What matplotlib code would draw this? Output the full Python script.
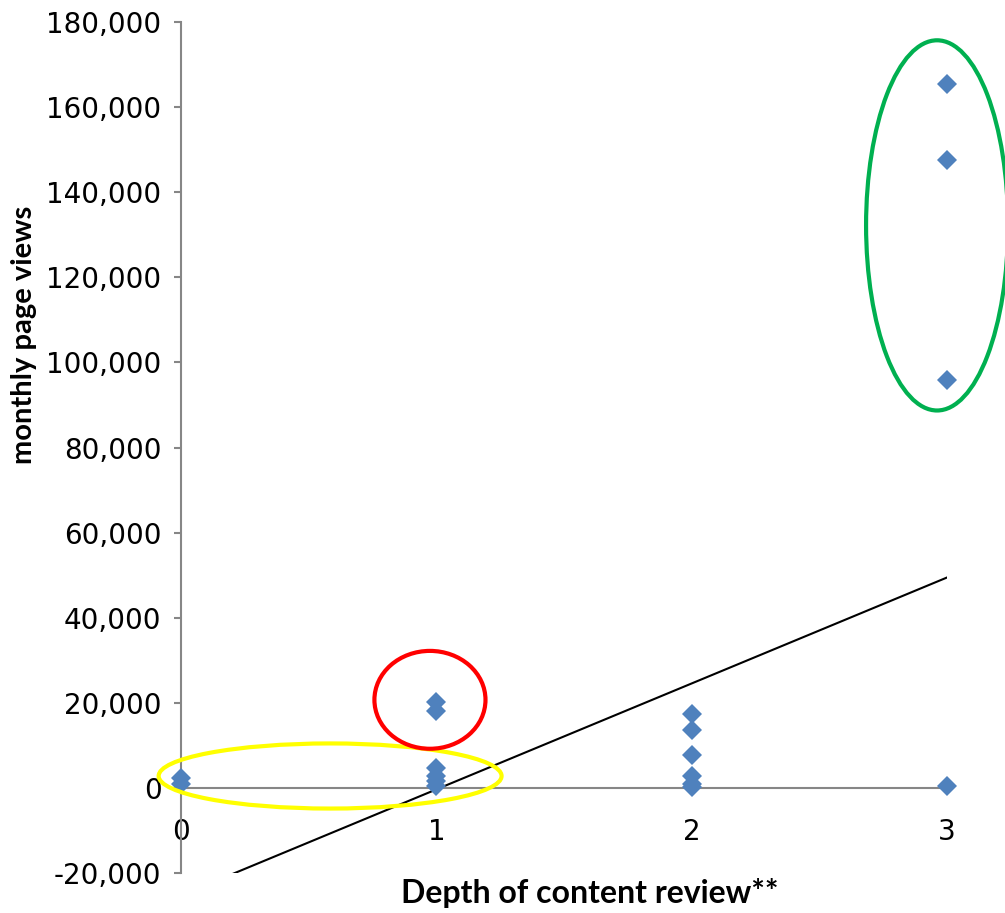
import matplotlib.pyplot as plt
from matplotlib.patches import Ellipse
from matplotlib.ticker import FuncFormatter
import numpy as np

# Data
depth = [0, 0,
         1, 1, 1, 1, 1, 1,
         2, 2, 2, 2, 2, 2,
         3, 3, 3, 3]
views = [2400, 900,
         20300, 18100, 4700, 2800, 1600, 450,
         17400, 13600, 7700, 2800, 900, 100,
         165500, 147600, 95900, 400]

# Linear trend line (as drawn in the chart)
trend_slope = 24900
trend_intercept = -25250

x_ticks = [0, 1, 2, 3]
y_ticks = list(range(-20000, 180001, 20000))

fig = plt.figure(figsize=(10.05, 9.13), dpi=100)
ax = fig.add_axes([0.1801, 0.0438, 0.7622, 0.9321])

# trend line
tx = np.array([0, 3])
ax.plot(tx, trend_slope * tx + trend_intercept, color='black', lw=1.5, zorder=2)

# points
ax.plot(depth, views, linestyle='none', marker='D', markersize=10,
        color='#4F81BD', markeredgewidth=0, clip_on=False, zorder=3)

# highlight ellipses
ax.add_patch(Ellipse((0.584, 2800), 1.343, 15300, fill=False,
                     edgecolor='#FFFF00', lw=3, clip_on=False, zorder=4))
ax.add_patch(Ellipse((0.975, 20700), 0.435, 23000, fill=False,
                     edgecolor='#FF0000', lw=3, clip_on=False, zorder=4))
ax.add_patch(Ellipse((2.961, 132200), 0.556, 87000, fill=False,
                     edgecolor='#00B050', lw=3, clip_on=False, zorder=4))

ax.set_xlim(0, 3)
ax.set_ylim(-20000, 180000)

ax.set_xticks(x_ticks)
ax.set_yticks(y_ticks)
ax.yaxis.set_major_formatter(FuncFormatter(lambda v, p: f'{int(v):,}'))

for s in ['top', 'right']:
    ax.spines[s].set_visible(False)
ax.spines['left'].set_color('#868686')
ax.spines['left'].set_linewidth(1.5)
ax.spines['bottom'].set_position(('data', 0))
ax.spines['bottom'].set_color('#868686')
ax.spines['bottom'].set_linewidth(1.5)

ax.tick_params(axis='y', direction='out', length=5, width=1.5, color='#868686',
               labelsize=20, pad=9)
ax.tick_params(axis='x', length=0, labelsize=20, pad=22)
for lab in ax.get_xticklabels() + ax.get_yticklabels():
    lab.set_family('DejaVu Sans')

ax.set_xlabel('Depth of content review**', fontsize=23, fontweight='bold',
              family=['Lato', 'DejaVu Sans'])
ax.set_ylabel('monthly page views', fontsize=21, fontweight='bold',
              family=['Lato', 'DejaVu Sans'])
ax.xaxis.set_label_coords(0.533, -0.0235)
ax.yaxis.set_label_coords(-0.205, 0.632)
ax.xaxis.label.set_verticalalignment('center')
ax.yaxis.label.set_verticalalignment('center')

fig.savefig('out.png', dpi=100)
